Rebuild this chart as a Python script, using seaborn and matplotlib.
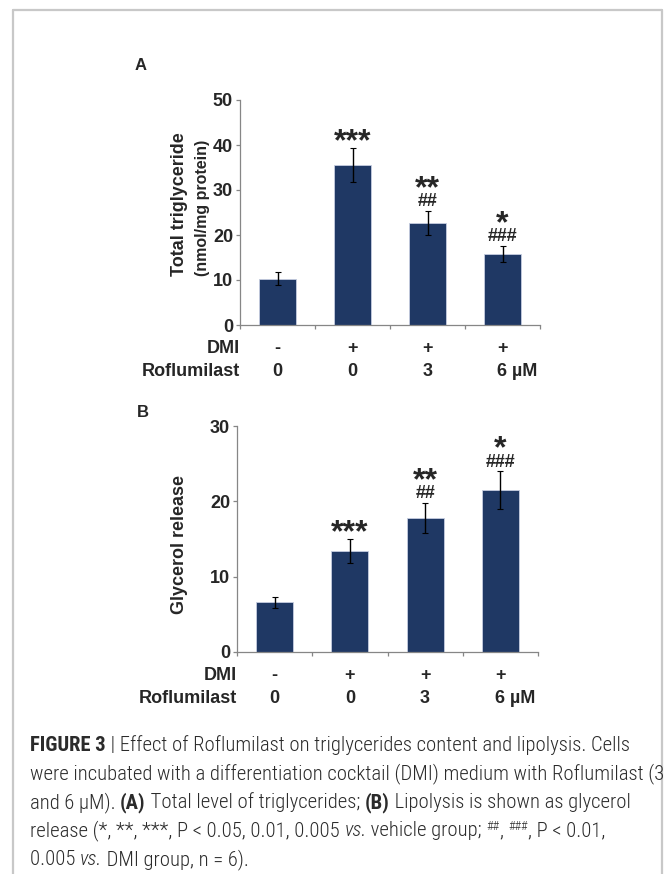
import pandas as pd
import matplotlib.pyplot as plt
from matplotlib import font_manager
from matplotlib.lines import Line2D
import seaborn as sns

# panel A: total triglyceride (nmol/mg protein)
groups = ['ctrl', 'DMI', 'DMI+R3', 'DMI+R6']
tg_mean = [10.3, 35.6, 22.7, 15.8]
tg_err = [1.4, 3.8, 2.7, 1.8]
tg_stars = ['', '***', '**', '*']
tg_hash = ['', '', '##', '###']

# panel B: glycerol release
gly_mean = [6.6, 13.4, 17.8, 21.5]
gly_err = [0.7, 1.6, 2.0, 2.5]
gly_stars = ['', '***', '**', '*']
gly_hash = ['', '', '##', '###']

dmi_row = ['-', '+', '+', '+']
rof_row = ['0', '0', '3', '6 µM']

sns.set_theme(style='white')
plt.rcParams['font.family'] = ['Liberation Sans', 'DejaVu Sans']

W, H = 665, 874
fig = plt.figure(figsize=(W / 100, H / 100), dpi=100)
renderer = fig.canvas.get_renderer()

bar_color = '#1f3864'
spine_color = '#868686'


def panel(rect, means, errs, stars, hashes, ymax, ystep, letter, ylabels):
    l, t, r, b = rect
    ax = fig.add_axes([l / W, 1 - b / H, (r - l) / W, (b - t) / H])
    df = pd.DataFrame({'group': groups, 'value': means})
    sns.barplot(data=df, x='group', y='value', order=groups, color=bar_color,
                saturation=1, width=0.49, edgecolor='#c5cde0', linewidth=0.6, ax=ax)
    ax.errorbar(range(len(groups)), means, yerr=errs, fmt='none', ecolor='black',
                elinewidth=1, capsize=2, capthick=0.8)
    ax.set_xlim(-0.5, 3.5)
    ax.set_ylim(0, ymax)
    ax.set_yticks(range(0, ymax + 1, ystep))
    ax.set_xticks([-0.5, 0.5, 1.5, 2.5, 3.5])
    ax.set_xticklabels([])
    ax.set_xlabel('')
    ax.set_ylabel('')
    for s in ['top', 'right']:
        ax.spines[s].set_visible(False)
    for s in ['left', 'bottom']:
        ax.spines[s].set_color(spine_color)
        ax.spines[s].set_linewidth(0.9)
    ax.tick_params(axis='both', direction='out', length=3, width=0.9, color=spine_color,
                   labelsize=13, pad=2, left=True, bottom=True)
    for lab in ax.get_yticklabels():
        lab.set_fontweight('bold')

    for i in range(len(groups)):
        top = means[i] + errs[i]
        if hashes[i]:
            ax.annotate(hashes[i], (i, top), xytext=(0, 6.5), textcoords='offset points',
                        ha='center', va='center', fontsize=13, fontweight='bold')
            ax.annotate(stars[i], (i, top), xytext=(0, 15.5), textcoords='offset points',
                        ha='center', va='center', fontsize=23, fontweight='bold')
        elif stars[i]:
            ax.annotate(stars[i], (i, top), xytext=(0, 4), textcoords='offset points',
                        ha='center', va='center', fontsize=23, fontweight='bold')

    tr = ax.get_xaxis_transform()
    ax.text(-0.505, -0.103, 'DMI', transform=tr, ha='right', va='center',
            fontsize=13, fontweight='bold')
    ax.text(-0.505, -0.205, 'Roflumilast', transform=tr, ha='right', va='center',
            fontsize=13, fontweight='bold')
    for i in range(len(groups)):
        ax.text(i, -0.103, dmi_row[i], transform=tr, ha='center', va='center',
                fontsize=13, fontweight='bold')
        if i < 3:
            ax.text(i, -0.205, rof_row[i], transform=tr, ha='center', va='center',
                    fontsize=13, fontweight='bold')
        else:
            ax.annotate(rof_row[i], (i, -0.205), xycoords=tr, xytext=(-4, 0),
                        textcoords='offset points', ha='left', va='center',
                        fontsize=13, fontweight='bold')

    fig.text(letter[1] / W, 1 - letter[2] / H, letter[0], ha='left', va='center',
             fontsize=12, fontweight='bold')
    for txt, x, y, fs in ylabels:
        fig.text(x / W, 1 - y / H, txt, rotation=90, ha='center', va='center',
                 fontsize=fs, fontweight='bold')
    return ax


panel((240, 100, 540, 325), tg_mean, tg_err, tg_stars, tg_hash, 50, 10,
      ('A', 135, 65), [('Total triglyceride', 180, 204, 13),
                       ('(nmol/mg protein)', 202, 208, 11.5)])
panel((237, 426, 538, 652), gly_mean, gly_err, gly_stars, gly_hash, 30, 10,
      ('B', 137, 412), [('Glycerol release', 180, 545, 13)])

# caption, written piece by piece so bold / italic / superscript can mix
avail = {f.name for f in font_manager.fontManager.ttflist}
cap_family = next((n for n in ['Liberation Sans Narrow', 'Roboto Condensed',
                               'Open Sans Condensed', 'Roboto'] if n in avail),
                  'Liberation Sans')
cap_color = '#2b2b2b'

cap = [
    [('FIGURE 3', 'b'), (' | Effect of Roflumilast on triglycerides content and lipolysis. Cells', 'r')],
    [('were incubated with a differentiation cocktail (DMI) medium with Roflumilast (3', 'r')],
    [('and 6 μM). ', 'r'), ('(A)', 'b'), (' Total level of triglycerides; ', 'r'), ('(B)', 'b'),
     (' Lipolysis is shown as glycerol', 'r')],
    [('release (*, **, ***, P < 0.05, 0.01, 0.005 ', 'r'), ('vs.', 'i'), (' vehicle group; ', 'r'),
     ('##', 's'), (', ', 'r'), ('###', 's'), (', P < 0.01,', 'r')],
    [('0.005 ', 'r'), ('vs.', 'i'), (' DMI group, n = 6).', 'r')],
]


def piece_kw(style, size):
    kw = dict(family=[cap_family, 'DejaVu Sans'], fontsize=size, color=cap_color,
              fontweight='light', fontstyle='normal')
    if style == 'b':
        kw['fontweight'] = 'bold'
    elif style == 'i':
        kw['fontstyle'] = 'italic'
    elif style == 's':
        kw['fontsize'] = size * 0.62
    return kw


def text_width(s, kw):
    t1 = fig.text(0, 0, 'x' + s + 'x', **kw)
    t2 = fig.text(0, 0, 'xx', **kw)
    w = t1.get_window_extent(renderer).width - t2.get_window_extent(renderer).width
    t1.remove()
    t2.remove()
    return w


def draw_line(pieces, x_px, y_px, size):
    x = x_px
    for s, style in pieces:
        kw = piece_kw(style, size)
        dy = 7 if style == 's' else 0
        fig.text(x / W, 1 - (y_px - dy) / H, s, ha='left', va='baseline', **kw)
        x += text_width(s, kw)


# size the caption so the first line spans the same width as the reference
base = 14
w1 = sum(text_width(s, piece_kw(st, base)) for s, st in cap[0])
cap_size = base * 602 / w1

for k, line in enumerate(cap):
    draw_line(line, 30, 751 + 28.5 * k, cap_size)

# frame
fc = '#c8c8c8'
fig.add_artist(Line2D([13 / W, 13 / W], [0, 1 - 10 / H], color=fc, lw=1.6))
fig.add_artist(Line2D([13 / W, 662 / W], [1 - 10 / H, 1 - 10 / H], color=fc, lw=1.6))
fig.add_artist(Line2D([662 / W, 662 / W], [0, 1 - 10 / H], color=fc, lw=1.6))

fig.savefig('out.png', dpi=100)
